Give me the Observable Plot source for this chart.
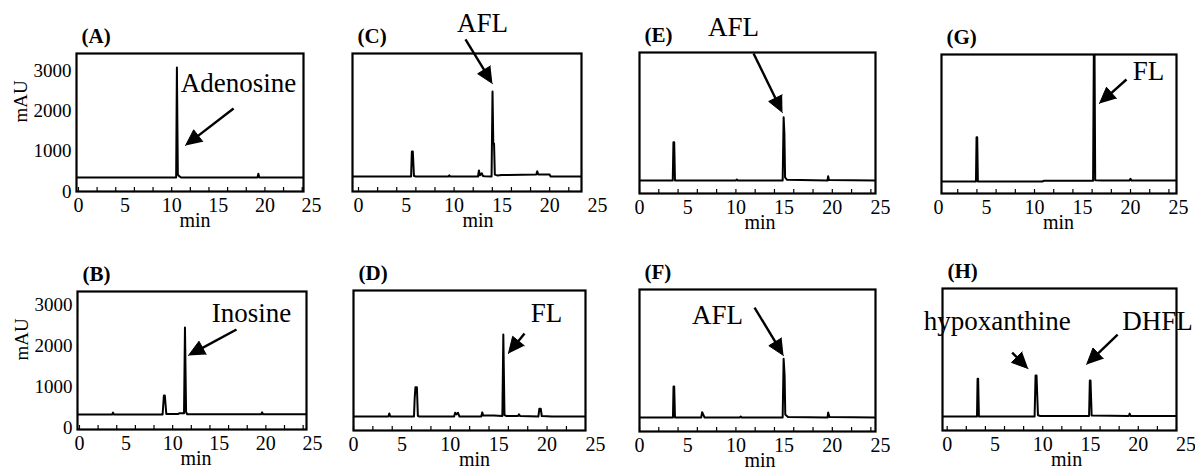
<!DOCTYPE html>
<html><head><meta charset="utf-8">
<script src="https://cdn.jsdelivr.net/npm/d3@7"></script>
<script src="https://cdn.jsdelivr.net/npm/@observablehq/plot@0.6"></script>
<style>
html,body{margin:0;padding:0;background:#fff;overflow:hidden}
#fig{position:relative;width:1195px;height:472px;overflow:hidden;background:#fff}
#fig svg{position:absolute}
#fig svg text{font-family:'Liberation Serif','Times New Roman',serif}
</style></head><body><div id="fig"></div>
<script>
// ---- tick labels ----
const xTicks = [0, 5, 10, 15, 20, 25];
const yTicks = [0, 1000, 2000, 3000];
const minorTicks = [0, 2, 4, 6, 8, 10, 12, 14, 16, 18, 20, 22, 24];

// ---- chromatogram series (time in min, absorbance in mAU) ----
const tA = [-0.7, 10.48, 10.56, 10.66, 10.8, 11.0, 19.2, 19.3, 19.4, 25];
const yA = [347, 347, 3077, 420, 380, 347, 347, 440, 347, 347];

const tB = [-0.7, 3.5, 3.6, 3.7, 8.92, 9.06, 9.16, 9.32, 10.6, 10.7, 11.22, 11.32, 11.44, 11.56, 19.5, 19.6, 19.7, 25];
const yB = [319, 319, 365, 319, 319, 786, 786, 330, 330, 350, 350, 2457, 380, 325, 325, 370, 325, 325];

const tC = [-0.7, 5.5, 5.58, 5.68, 5.8, 6.0, 9.4, 9.5, 9.6, 12.5, 12.6, 12.7, 12.9, 13.0, 13.15, 13.92, 14.02, 14.1, 14.18, 14.26, 14.5, 15.0, 18.6, 18.7, 18.8, 20.0, 20.1, 25];
const yC = [372, 372, 993, 993, 385, 372, 372, 400, 372, 372, 521, 400, 454, 390, 380, 372, 2481, 1190, 1190, 420, 400, 410, 420, 504, 420, 420, 372, 372];

const tD = [-0.7, 3.6, 3.7, 3.8, 6.25, 6.32, 6.4, 6.55, 6.65, 6.8, 10.4, 10.5, 10.65, 10.8, 10.95, 13.2, 13.3, 13.4, 14.5, 15.38, 15.48, 15.6, 15.8, 17.0, 17.1, 17.2, 19.1, 19.2, 19.35, 19.45, 20.5, 25];
const yD = [347, 347, 420, 347, 347, 794, 1075, 1075, 360, 347, 347, 440, 400, 440, 347, 347, 450, 370, 370, 360, 2382, 380, 360, 360, 400, 360, 347, 538, 538, 360, 347, 347];

const tE = [-0.7, 3.45, 3.52, 3.6, 3.68, 10.0, 10.1, 10.2, 14.85, 14.95, 15.03, 15.1, 15.3, 19.5, 19.57, 19.65, 25];
const yE = [323, 323, 1274, 1274, 323, 323, 345, 323, 323, 1894, 1480, 400, 340, 323, 430, 335, 323];

const tF = [-0.7, 3.47, 3.53, 3.6, 3.68, 6.4, 6.5, 6.65, 6.75, 10.4, 10.5, 10.6, 14.85, 14.95, 15.05, 15.12, 15.4, 19.5, 19.57, 19.7, 25];
const yF = [347, 347, 1117, 1117, 347, 347, 479, 400, 347, 347, 370, 347, 347, 1804, 1400, 420, 360, 347, 471, 360, 347];

const tG = [-0.7, 3.9, 3.96, 4.03, 4.1, 10.8, 11.0, 16.1, 16.18, 16.25, 16.32, 17.0, 19.9, 20.0, 20.1, 25];
const yG = [298, 298, 1397, 1397, 298, 298, 315, 315, 3600, 3600, 330, 323, 323, 365, 323, 323];

const tH = [-0.7, 3.12, 3.18, 3.24, 3.32, 9.15, 9.25, 9.35, 9.5, 9.75, 14.85, 14.93, 15.0, 15.12, 19.0, 19.1, 19.2, 25];
const yH = [347, 347, 1282, 1282, 347, 347, 1365, 1365, 380, 360, 360, 1241, 1241, 370, 360, 420, 360, 360];

// ---- panel labels and peak annotations ----
const panelLabels = ["(A)", "(B)", "(C)", "(D)", "(E)", "(F)", "(G)", "(H)"];
const peakNames = {
  A: ["Adenosine"], B: ["Inosine"], C: ["AFL"], D: ["FL"],
  E: ["AFL"], F: ["AFL"], G: ["FL"], H: ["hypoxanthine", "DHFL"]
};

// ---- layout (frame rectangle in page pixels, scale domains, annotation anchors) ----
const panels = [
  {id:"A", t:tA, v:yA, L:76,  R:303,  T:53,  B:191, xd:[-0.21,24.14], yd:[0,3424], yAxis:true,
   notes:[[17.17,2680]], arrows:[[16.64,2060,11.49,1141]]},
  {id:"B", t:tB, v:yB, L:77,  R:306,  T:291, B:429, xd:[-0.21,24.36], yd:[-50,3340], yAxis:true,
   notes:[[18.46,2801]], arrows:[[16.85,2408,11.7,1769]]},
  {id:"C", t:tC, v:yC, L:352, R:581,  T:53,  B:191, xd:[-0.63,23.33], yd:[0,3424],
   notes:[[12.97,4169]], arrows:[[11.19,3772,14.01,2680]]},
  {id:"D", t:tD, v:yD, L:353, R:585,  T:290, B:430, xd:[0,23.97], yd:[0,3474],
   notes:[[19.94,2903]], arrows:[[17.67,2407,16.01,1911]]},
  {id:"E", t:tE, v:yE, L:639, R:875,  T:52,  B:193, xd:[0,24.48], yd:[0,3499],
   notes:[[9.75,4119]], arrows:[[11.83,3474,14.83,2010]]},
  {id:"F", t:tF, v:yF, L:639, R:875,  T:289, B:431, xd:[0,24.48], yd:[0,3524],
   notes:[[8.09,2878]], arrows:[[11.93,3077,14.94,1886]]},
  {id:"G", t:tG, v:yG, L:941, R:1176, T:54,  B:193, xd:[0.31,24.79], yd:[0,3449],
   notes:[[21.87,3027]], arrows:[[19.58,2829,16.77,2233]]},
  {id:"H", t:tH, v:yH, L:942, R:1176, T:288, B:430, xd:[-0.49,24.0], yd:[0,3524],
   notes:[[5.24,2705],[22.0,2705]], arrows:[[6.8,1935,8.47,1538],[17.84,2382,14.6,1638]]}
];
const labelOf = {A:0,B:1,C:2,D:3,E:4,F:5,G:6,H:7};

const fig = document.getElementById("fig");
const ml = 80, mr = 40, mt = 60, mb = 45;
const HL = 16, HW = 7.5;
const serif = "'Liberation Serif', 'Times New Roman', serif";

for (const p of panels) {
  const W = p.R - p.L, H = p.B - p.T;
  const pts = p.t.map((t, i) => ({t, v: p.v[i]}));
  const notes = p.notes.map((n, i) => ({t: n[0], v: n[1], text: peakNames[p.id][i]}));
  const kx = W / (p.xd[1] - p.xd[0]), ky = H / (p.yd[1] - p.yd[0]);
  const heads = [], shafts = [];
  p.arrows.forEach((a, k) => {
    const [t1, v1, t2, v2] = a;
    const dx = (t2 - t1) * kx, dy = -(v2 - v1) * ky;
    const len = Math.hypot(dx, dy), ux = dx / len, uy = dy / len;
    const bx = -ux * HL, by = -uy * HL, nx = -uy, ny = ux;
    const toData = (ox, oy) => ({t: t2 + ox / kx, v: v2 - oy / ky, k});
    heads.push(toData(0, 0), toData(bx + nx * HW, by + ny * HW), toData(bx - nx * HW, by - ny * HW));
    const b = toData(bx * 0.7, by * 0.7);
    shafts.push({t1, v1, t2: b.t, v2: b.v});
  });

  const marks = [
    Plot.line(pts, {x: "t", y: "v", stroke: "black", strokeWidth: 2, clip: true}),
    Plot.tickX(minorTicks.filter(d => d >= p.xd[0] && d <= p.xd[1]), {x: d => d, insetTop: H - 4, stroke: "black", strokeWidth: 1.2}),
    Plot.axisX({ticks: xTicks, tickSize: 0, tickPadding: 6, label: null, fontSize: 20, fontFamily: serif, tickFormat: d => String(d)}),
    Plot.text(["min"], {x: () => 12.5, frameAnchor: "bottom", lineAnchor: "middle", dy: 29, text: d => d, fontSize: 20, fontFamily: serif}),
    Plot.text([panelLabels[labelOf[p.id]]], {frameAnchor: "top-left", lineAnchor: "middle", dx: 5, dy: -17, text: d => d, fontSize: 21, fontWeight: "bold", textAnchor: "start", fontFamily: serif}),
    Plot.text(notes, {x: "t", y: "v", text: "text", fontSize: 27, textAnchor: "middle", fontFamily: serif}),
    Plot.link(shafts, {x1: "t1", y1: "v1", x2: "t2", y2: "v2", stroke: "black", strokeWidth: 2.4}),
    Plot.line(heads, {x: "t", y: "v", z: "k", fill: "black", stroke: "black", strokeWidth: 1, strokeLinejoin: "miter"}),
    Plot.frame({stroke: "black", strokeWidth: 2.2})
  ];
  if (p.yAxis) {
    marks.push(Plot.axisY({ticks: yTicks, tickSize: 0, tickPadding: 5, label: null, fontSize: 19, fontFamily: serif, tickFormat: d => String(d)}));
    marks.push(Plot.text(["mAU"], {frameAnchor: "left", dx: -56, rotate: -90, text: d => d, fontSize: 19, fontFamily: serif}));
  }

  const chart = Plot.plot({
    width: ml + W + mr,
    height: mt + H + mb,
    marginLeft: ml, marginRight: mr, marginTop: mt, marginBottom: mb,
    x: {domain: p.xd},
    y: {domain: p.yd, axis: p.yAxis ? undefined : null},
    style: "background:transparent;overflow:visible;font-family:" + serif + ";font-size:19px;color:black",
    marks
  });
  chart.style.left = (p.L - ml) + "px";
  chart.style.top = (p.T - mt) + "px";
  fig.appendChild(chart);
}
</script></body></html>
